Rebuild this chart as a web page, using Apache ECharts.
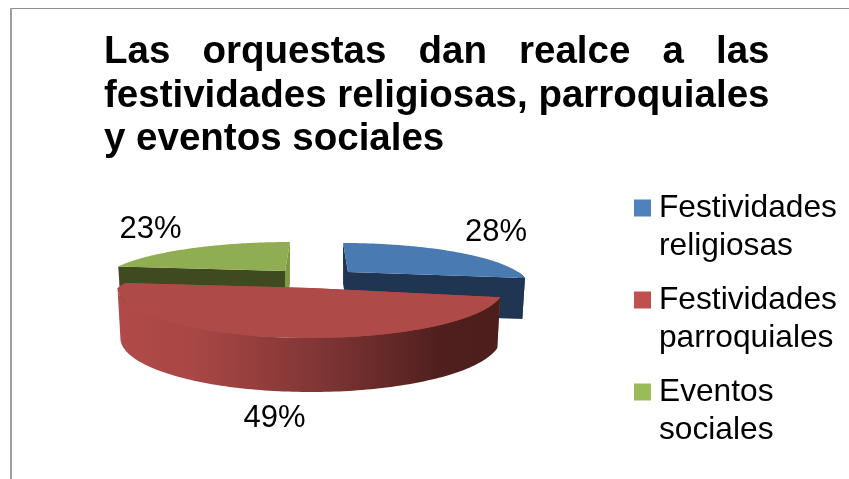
<!DOCTYPE html>
<html>
<head>
<meta charset="utf-8">
<style>
html, body { margin: 0; padding: 0; background: #fff; }
#main { width: 849px; height: 479px; }
</style>
<script src="https://cdn.jsdelivr.net/npm/echarts@6/dist/echarts.min.js"></script>
</head>
<body>
<div id="main"></div>
<script>
const titleText = 'Las   orquestas   dan   realce   a   las\nfestividades religiosas, parroquiales\ny eventos sociales';
const categories = ['Festividades religiosas', 'Festividades parroquiales', 'Eventos sociales'];
const values = [28, 49, 23];
const legendColors = ['#4f81bd', '#c0504d', '#9bbb59'];
const topColors = ['#4a7ab2', '#ae4a47', '#8fae52'];
// start cut, end cut of each slice
const faceColors = [['#1f3552', '#1f3552'], ['#ae4a47', '#ae4a47'], ['#3f4a21', '#7d9a47']];
// squashed 3d look, every slice is pulled out of the pie on its own
const sliceLayout = [
    { cx: 348, cy: 272, rx: 170, ryBack: 37.7, ryFront: 30, persp: 0.3, lean: 5, depth: 41, depthFront: 0, label: [496, 232] },
    { cx: 310.5, cy: 288, rx: 193, ryBack: 40, ryFront: 50, persp: 0, lean: -48, depth: 50, depthFront: 4, label: [274.5, 418] },
    { cx: 285, cy: 271, rx: 175, ryBack: 37.7, ryFront: 37.7, persp: 0.3, lean: -5, depth: 42, depthFront: 0, label: [150.5, 229] }
];
const drawOrder = [2, 0, 1];

const total = values.reduce((acc, curr) => acc + curr, 0);

function sliceAngles(index) {
    const before = values.slice(0, index).reduce((acc, curr) => acc + curr, 0);
    return [before / total * Math.PI * 2, (before + values[index]) / total * Math.PI * 2];
}

function topPoint(g, a) {
    const cos = Math.cos(a);
    const ry = cos > 0 ? g.ryBack : g.ryFront;
    const w = 1 + g.persp * cos;
    const leanX = cos > 0 ? g.lean * cos : 0;
    return [g.cx + g.rx * Math.sin(a) / w - leanX, g.cy - ry * cos / w];
}

function lowPoint(g, a) {
    const p = topPoint(g, a);
    const cos = Math.cos(a);
    const d = g.depth + (cos < 0 ? -cos * g.depthFront : 0);
    return [g.cx + (p[0] - g.cx) * 0.985, p[1] + d];
}

function arcPoints(g, from, to, fn) {
    const pts = [];
    const steps = 120;
    for (let i = 0; i <= steps; i++) {
        pts.push(fn(g, from + (to - from) * i / steps));
    }
    return pts;
}

function renderSlice(index) {
    return function () {
        const g = sliceLayout[index];
        const [start, end] = sliceAngles(index);
        const apex = [g.cx, g.cy];
        const apexLow = [g.cx, g.cy + g.depth];
        const children = [];

        // the two cut faces
        [start, end].forEach((a, i) => {
            children.push({
                type: 'polygon',
                shape: { points: [apex, topPoint(g, a), lowPoint(g, a), apexLow] },
                style: { fill: faceColors[index][i] }
            });
        });

        // outer wall, only the part that looks to the front
        const wallFrom = Math.max(start, Math.PI / 2);
        const wallTo = Math.min(end, Math.PI * 1.5);
        if (wallTo > wallFrom) {
            const fill = index === 1
                ? new echarts.graphic.LinearGradient(0, 0, 1, 0, [
                    { offset: 0, color: '#b04a48' },
                    { offset: 0.2, color: '#a84745' },
                    { offset: 0.53, color: '#803535' },
                    { offset: 0.85, color: '#4e1f1d' },
                    { offset: 1, color: '#4d1e1c' }
                ])
                : faceColors[index][1];
            children.push({
                type: 'polygon',
                shape: {
                    points: arcPoints(g, wallFrom, wallTo, topPoint)
                        .concat(arcPoints(g, wallTo, wallFrom, lowPoint))
                },
                style: { fill: fill }
            });
        }

        // top
        children.push({
            type: 'polygon',
            shape: { points: [apex].concat(arcPoints(g, start, end, topPoint)) },
            style: { fill: topColors[index] }
        });

        children.push({
            type: 'text',
            style: {
                text: values[index] + '%',
                x: g.label[0],
                y: g.label[1],
                align: 'center',
                verticalAlign: 'middle',
                fill: '#000',
                font: '31px "Liberation Sans", Arial, sans-serif'
            }
        });

        return { type: 'group', children: children };
    };
}

const chartDom = document.getElementById('main');
const myChart = echarts.init(chartDom);

const option = {
    animation: false,
    backgroundColor: '#fff',
    title: {
        text: titleText,
        left: 104,
        top: 31,
        padding: 0,
        textStyle: {
            fontFamily: '"Liberation Sans", Arial, sans-serif',
            fontWeight: 'bold',
            fontSize: 38.5,
            lineHeight: 43.5,
            color: '#000'
        }
    },
    legend: {
        orient: 'vertical',
        left: 634,
        top: 151,
        padding: 0,
        itemWidth: 17,
        itemHeight: 17,
        itemGap: -22,
        icon: 'rect',
        selectedMode: false,
        data: categories,
        // blank first line keeps the square level with the first text line
        formatter: function (name) {
            return ['{b| }'].concat(name.split(' ').map(part => `{t|${part}}`)).join('\n');
        },
        textStyle: {
            fontFamily: '"Liberation Sans", Arial, sans-serif',
            fontSize: 31.7,
            lineHeight: 37.5,
            color: '#000',
            rich: {
                b: {
                    fontSize: 31.7,
                    lineHeight: 39
                },
                t: {
                    fontFamily: '"Liberation Sans", Arial, sans-serif',
                    fontSize: 31.7,
                    lineHeight: 37.5,
                    color: '#000',
                    padding: [0, 0, 0, 3]
                }
            }
        }
    },
    graphic: [
        { type: 'rect', silent: true, shape: { x: 10, y: 8, width: 839, height: 1 }, style: { fill: '#8c8c8c' } },
        { type: 'rect', silent: true, shape: { x: 10, y: 8, width: 2, height: 471 }, style: { fill: '#a0a0a0' } }
    ],
    series: drawOrder.map(index => ({
        type: 'custom',
        name: categories[index],
        coordinateSystem: 'none',
        silent: true,
        itemStyle: { color: legendColors[index] },
        renderItem: renderSlice(index),
        data: [values[index]]
    }))
};

myChart.setOption(option);
</script>
</body>
</html>
